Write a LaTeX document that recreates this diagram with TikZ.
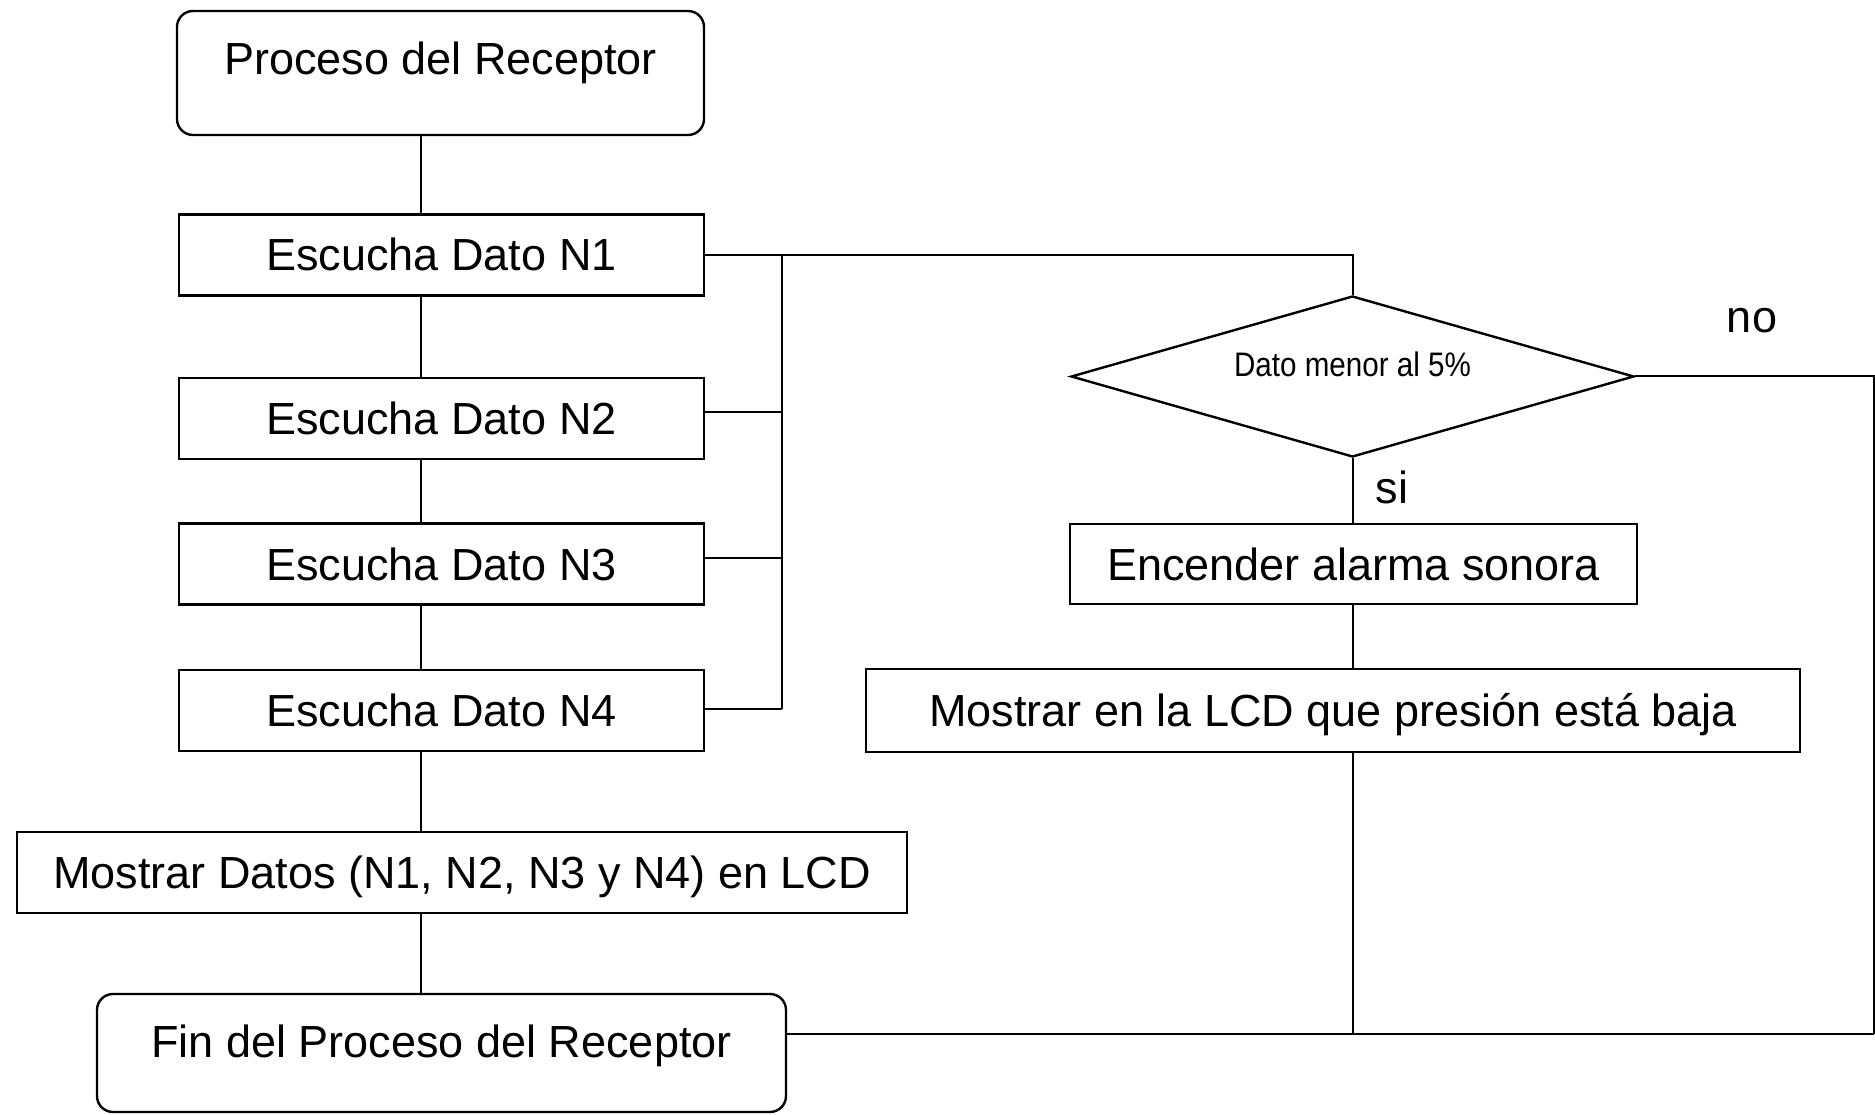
\documentclass[tikz,border=0pt]{standalone}
\usepackage{fontspec}
\setmainfont{Liberation Sans}
\newfontfamily\narrowfont[FakeStretch=0.87]{Liberation Sans}
\usetikzlibrary{shapes.geometric}
\begin{document}
\begin{tikzpicture}[x=1pt,y=-1pt,
  box/.style={draw, line width=2.4pt, inner sep=0pt, minimum height=81pt,
    text height=32pt, text depth=0pt, font=\fontsize{45}{54}\selectfont},
  term/.style={draw, line width=2.4pt, rounded corners=16pt, inner sep=0pt,
    font=\fontsize{45}{54}\selectfont},
  decbox/.style={draw, diamond, line width=2.4pt, inner sep=0pt},
  lbl/.style={anchor=base, inner sep=0pt, font=\fontsize{45}{54}\selectfont},
  conn/.style={line width=2pt}]
\useasboundingbox (0,0) rectangle (1875,1115);

% left column
\node[term, minimum width=527pt, text height=64pt, text depth=60pt] (start) at (440.5,73) {Proceso del Receptor};
\node[box, minimum width=525pt] (n1) at (441.5,255) {Escucha Dato N1};
\node[box, minimum width=525pt] (n2) at (441.5,418.5) {Escucha Dato N2};
\node[box, minimum width=525pt] (n3) at (441.5,564) {Escucha Dato N3};
\node[box, minimum width=525pt] (n4) at (441.5,710.5) {Escucha Dato N4};
\node[box, minimum width=890pt] (show) at (462,872.5) {Mostrar Datos (N1, N2, N3 y N4) en LCD};
\node[term, minimum width=689pt, text height=63pt, text depth=55pt] (fin) at (441.5,1053) {Fin del Proceso del Receptor};

% right column
\node[decbox, minimum width=563pt, minimum height=161pt] (dec) at (1352.5,376.5) {};
\node[anchor=base, inner sep=0pt, font=\fontsize{34}{40}\narrowfont] (dectext) at (1352.5,377) {Dato menor al 5\%};
\node[box, minimum width=567pt, minimum height=80pt] (alarm) at (1353.5,564) {Encender alarma sonora};
\node[box, minimum width=934pt, minimum height=83pt] (lcd) at (1333,710.5) {Mostrar en la LCD que presión está baja};
\node[lbl] (no) at (1752,333) {no};
\node[lbl] (si) at (1392,503) {si};

\coordinate (colL) at (421,0);
\coordinate (bus) at (782,0);
\coordinate (botR) at (1873.5,1034);

% vertical main flow
\draw[conn] (start.south -| colL) -- (n1.north -| colL);
\draw[conn] (n1.south -| colL) -- (n2.north -| colL);
\draw[conn] (n2.south -| colL) -- (n3.north -| colL);
\draw[conn] (n3.south -| colL) -- (n4.north -| colL);
\draw[conn] (n4.south -| colL) -- (show.north -| colL);
\draw[conn] (show.south -| colL) -- (fin.north -| colL);

% bus
\draw[conn] (n1.east) -- (dec.north |- n1.east) -- (dec.north);
\draw[conn] (n1.east -| bus) -- ([yshift=2pt]n4.east -| bus);
\draw[conn] ([yshift=7pt]n2.east) -- ([yshift=7pt]n2.east -| bus);
\draw[conn] ([yshift=6pt]n3.east) -- ([yshift=6pt]n3.east -| bus);
\draw[conn] ([yshift=2pt]n4.east) -- ([yshift=2pt]n4.east -| bus);

% right branch
\draw[conn] (dec.south) -- (dec.south |- alarm.north);
\draw[conn] (alarm.south -| dec.south) -- (lcd.north -| dec.south);
\draw[conn] (lcd.south -| dec.south) -- (dec.south |- botR);
\draw[conn] (dec.east) -- (dec.east -| botR) -- (botR);
\draw[conn] (fin.east |- botR) -- (botR);
\end{tikzpicture}
\end{document}
